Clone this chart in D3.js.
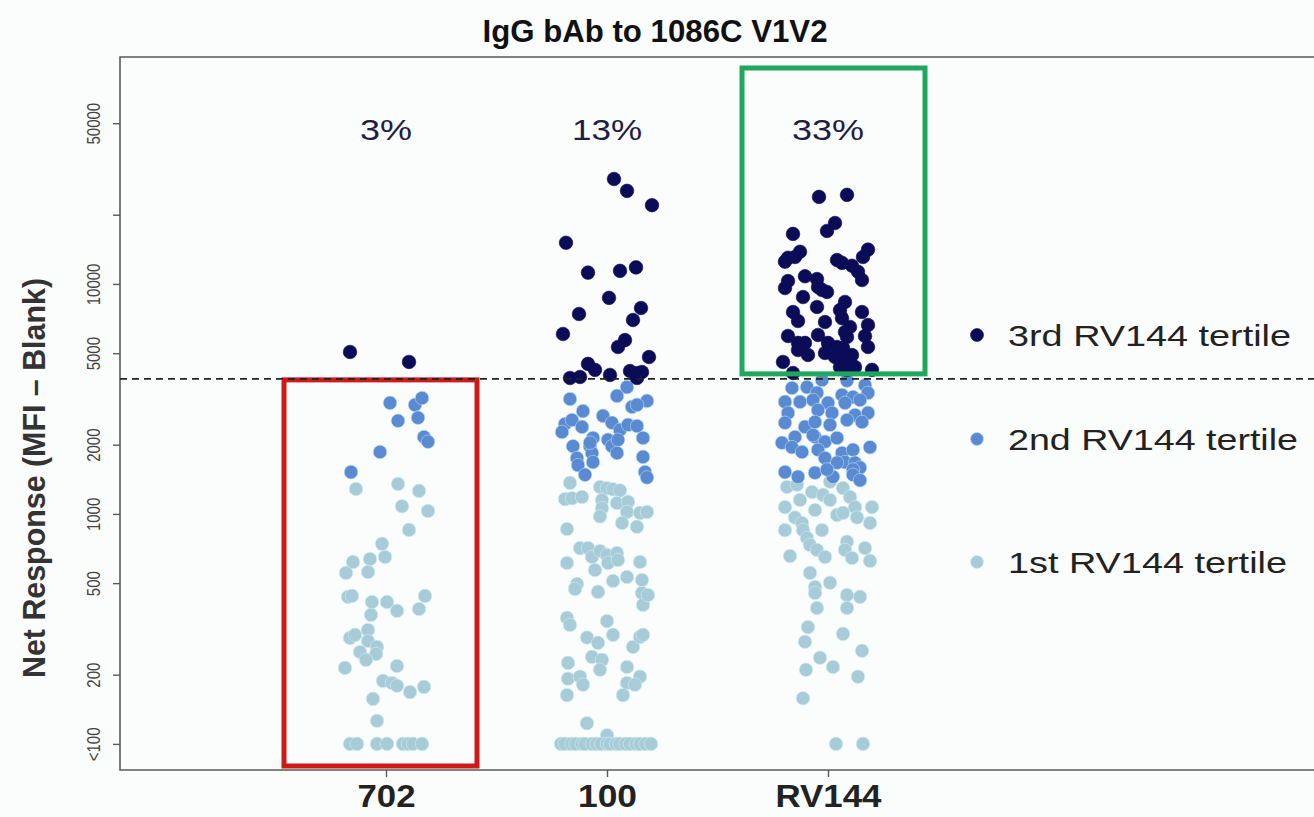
<!DOCTYPE html>
<html lang="en">
<head>
    <meta charset="UTF-8">
    <title>IgG bAb to 1086C V1V2</title>
    <script src="https://d3js.org/d3.v7.min.js"></script>
    <style>
        body {
            margin: 0;
            background: #fbfcfc;
            font-family: "Liberation Sans", Arial, sans-serif;
            overflow: hidden;
        }
        svg {
            display: block;
        }
    </style>
</head>
<body>

    <div id="chart"></div>

    <script>
        const groups = ["702", "100", "RV144"];
        const pctLabels = ["3%", "13%", "33%"];
        const tertiles = ["1st RV144 tertile", "2nd RV144 tertile", "3rd RV144 tertile"];
        const yTicks = [100, 200, 500, 1000, 2000, 5000, 10000, 20000, 50000];
        const yTickLabels = ["<100", "200", "500", "1000", "2000", "5000", "10000", "", "50000"];
        const cutoff = 3865;

        // each point: [net response, horizontal jitter (-1..1)]
        const g702_t1 = [[1284,-0.60],[1350,0.24],[1260,0.66],[1080,0.32],[1030,0.84],[852,0.46],[741,-0.08],[618,-0.66],[637,-0.32],[650,-0.02],
            [554,-0.80],[559,-0.36],[436,-0.76],[440,-0.68],[414,-0.28],[414,0.02],[379,0.22],[440,0.78],[386,0.66],[364,-0.30],
            [289,-0.72],[298,-0.62],[313,-0.36],[280,-0.36],[264,-0.18],[246,-0.20],[251,-0.52],[232,-0.40],[214,-0.82],[218,0.22],
            [188,-0.06],[184,0.12],[179,0.22],[168,0.48],[177,0.76],[157,-0.26],[126,-0.18],
            [100,-0.72],[100,-0.58],[100,-0.18],[100,0.02],[100,0.34],[100,0.44],[100,0.54],[100,0.72]];
        const g702_t2 = [[3040,0.08],[2980,0.58],[3190,0.72],[2540,0.24],[2620,0.64],[2160,0.76],[2060,0.84],[1860,-0.12],[1520,-0.70]];
        const g702_t3 = [[5060,-0.72],[4580,0.46]];

        const g100_t1 = [[1365,-0.74],[1160,-0.84],[1170,-0.70],[1185,-0.50],[1310,-0.14],[1295,0],[1280,0.12],[1265,0.26],[1150,-0.10],[1115,0.20],
            [1130,0.42],[1060,-0.10],[975,-0.14],[1020,0.40],[1010,0.66],[1020,0.80],[913,0.30],[880,0.60],[860,-0.80],[710,-0.54],
            [710,-0.38],[650,-0.30],[690,-0.14],[663,0],[612,0.02],[676,0.20],[630,0.22],[570,-0.24],[612,-0.80],[618,0.66],
            [511,0.12],[532,0.40],[516,0.70],[453,0.70],[402,0.72],[444,0.82],[496,-0.60],[472,-0.64],[458,-0.18],[353,-0.80],
            [329,-0.74],[342,0],[290,-0.40],[275,-0.18],[298,0.12],[264,0.52],[292,0.66],[298,0.72],[239,-0.30],[232,-0.10],
            [210,-0.14],[225,-0.78],[192,-0.78],[196,-0.54],[181,-0.48],[163,-0.80],[216,0.40],[184,0.40],[163,0.32],[196,0.66],
            [181,0.56],[123,-0.40],[109,0],
            [100,-0.92],[100,-0.84],[100,-0.71],[100,-0.63],[100,-0.50],[100,-0.44],[100,-0.30],[100,-0.21],[100,-0.12],[100,0.0],
            [100,0.06],[100,0.18],[100,0.25],[100,0.37],[100,0.46],[100,0.58],[100,0.66],[100,0.77],[100,0.88]];
        const g100_t2 = [[3560,0.40],[3260,0.20],[3160,-0.74],[3100,0.80],[2800,-0.48],[2920,0.50],[2980,0.60],[2670,-0.08],[2460,-0.84],[2560,-0.70],
            [2390,-0.50],[2490,0.10],[2320,0.26],[2440,0.42],[2410,0.60],[2270,-0.90],[2140,-0.28],[2100,0.02],[2140,0.72],[1970,-0.68],
            [1970,-0.34],[1970,0.10],[2100,0.22],[1840,-0.30],[1840,0.20],[1750,-0.60],[1770,0.72],[1680,-0.28],[1630,-0.58],[1480,-0.44],
            [1520,0.76],[1440,0.80],[2040,-0.34]];
        const g100_t3 = [[28600,0.14],[25400,0.40],[22000,0.90],[15100,-0.82],[11200,-0.38],[11400,0.26],[11800,0.58],[8700,0.04],[7400,-0.56],[7860,0.68],
            [6970,0.52],[6060,-0.88],[5700,0.36],[5320,0.22],[4810,0.84],[4490,-0.38],[4230,-0.24],[3900,-0.74],[3940,-0.54],[4020,0.06],
            [4180,0.46],[4100,0.62],[3900,0.60],[4140,0.70]];

        const gRV_t1 = [[1310,-0.82],[1340,-0.62],[1245,-0.32],[1380,0.04],[1210,-0.10],[1295,0.30],[1185,0.44],[1070,-0.86],[1150,-0.56],[1040,-0.26],
            [1150,0.04],[1070,0.54],[1070,0.88],[965,-0.66],[913,-0.52],[990,0.18],[1010,0.30],[965,0.58],[913,0.84],[850,-0.86],
            [850,-0.50],[850,-0.12],[786,-0.42],[733,-0.36],[697,-0.22],[757,0.38],[697,0.34],[710,0.74],[656,-0.76],[650,-0.06],
            [643,0.48],[625,0.84],[554,-0.36],[481,-0.26],[502,0.04],[453,-0.26],[444,0.38],[436,0.64],[390,0.38],[390,-0.22],
            [322,-0.40],[278,-0.46],[301,0.30],[254,0.68],[237,-0.16],[216,0.10],[210,-0.44],[196,0.60],[158,-0.50],
            [100,0.16],[100,0.70]];
        const gRV_t2 = [[3820,-0.12],[3800,0.38],[3530,-0.72],[3560,-0.42],[3360,-0.22],[3630,0.74],[3290,0.28],[3220,0.50],[3360,0.80],[3070,-0.86],
            [3070,-0.56],[3130,-0.30],[3040,0],[3040,0.34],[3130,0.64],[2750,-0.80],[2830,-0.20],[2750,0.08],[2690,0.54],[2750,0.80],
            [2490,-0.86],[2390,-0.46],[2510,-0.26],[2440,0.04],[2560,0.38],[2510,0.68],[2160,-0.66],[2160,-0.26],[2060,-0.06],[2140,0.18],
            [2040,-0.92],[1950,-0.72],[1860,-0.52],[1900,-0.20],[1840,0.28],[1900,0.50],[1950,0.84],[1750,-0.06],[1680,0.34],[1670,0.54],
            [1590,0.64],[1560,0.50],[1520,-0.86],[1450,-0.60],[1510,-0.26],[1450,0.10],[1480,0.50],[2200,-0.30],[1670,0.18],[1560,-0.02],
            [1400,0.64]];
        const gRV_t3 = [[23900,-0.18],[24400,0.38],[18400,0.14],[17000,-0.02],[16500,-0.70],[13800,-0.56],[13000,-0.80],[12500,-0.86],[12700,0.18],[12350,0.28],
            [12000,0.48],[14100,0.80],[13100,0.70],[11300,0.60],[10400,0.68],[10800,-0.46],[10300,-0.80],[10500,-0.22],[9700,-0.20],[9230,-0.02],
            [8770,-0.50],[9600,-0.86],[8350,0.34],[7940,-0.22],[7550,-0.70],[6900,-0.60],[6830,-0.06],[7100,0.28],[7550,0.68],[6500,0.44],
            [6630,0.80],[5940,-0.80],[5540,-0.46],[6000,-0.20],[5540,0],[5320,0.18],[5270,0.30],[5880,0.38],[5940,0.74],[5320,0.80],
            [5160,-0.60],[4910,-0.40],[5010,-0.06],[4810,0.14],[4580,-0.90],[4580,0.44],[4350,0.54],[4230,0.38],[4100,-0.70],[4230,0.88],
            [13100,-0.66],[9420,-0.12],[7700,0.24],[5540,-0.60],[4910,0.48],[4760,0.34],[4350,0.24],[6180,0.34]];

        const groupData = [
            [g702_t1, g702_t2, g702_t3],
            [g100_t1, g100_t2, g100_t3],
            [gRV_t1, gRV_t2, gRV_t3]
        ];

        const tertileColors = ["#a8cbd8", "#5a8ad2", "#0b0b57"];
        const haloColors = ["#cdeef7", "#b5dcf5", "#0b0b57"];

        const width = 1314;
        const height = 817;
        const plot = { left: 120, top: 57, bottom: 770, right: 1400 };

        const svg = d3.select("#chart")
            .append("svg")
            .attr("width", width)
            .attr("height", height);

        svg.append("rect")
            .attr("width", width)
            .attr("height", height)
            .attr("fill", "#fbfcfc");

        // Escalas
        const y = d3.scaleLog()
            .domain([77, 97000])
            .range([plot.bottom, plot.top]);

        const x = d3.scalePoint()
            .domain(groups)
            .range([386, 828]);

        const jitter = d3.scaleLinear()
            .domain([-1, 1])
            .range([-50, 50]);

        // marco del panel (el lado derecho queda fuera de la imagen)
        svg.append("path")
            .attr("d", `M${plot.right},${plot.top}H${plot.left}V${plot.bottom}H${plot.right}`)
            .attr("fill", "none")
            .attr("stroke", "#5a5a5a")
            .attr("stroke-width", 1.6);

        // eje Y
        const yAxis = svg.append("g")
            .attr("transform", `translate(${plot.left},0)`)
            .call(d3.axisLeft(y)
                .tickValues(yTicks)
                .tickFormat((d, i) => yTickLabels[i])
                .tickSize(7)
                .tickSizeOuter(0));
        yAxis.select(".domain").remove();
        yAxis.selectAll(".tick line").attr("stroke", "#5a5a5a").attr("stroke-width", 1.4);
        yAxis.selectAll(".tick text")
            .attr("x", 0)
            .attr("dy", 0)
            .attr("transform", "translate(-20,0) rotate(-90) scale(1,1.25)")
            .attr("text-anchor", "middle")
            .attr("fill", "#444")
            .style("font-size", "15px")
            .style("font-family", "'Liberation Sans', Arial, sans-serif");

        // eje X
        const xAxis = svg.append("g")
            .attr("transform", `translate(0,${plot.bottom})`)
            .call(d3.axisBottom(x).tickSize(7).tickSizeOuter(0));
        xAxis.select(".domain").remove();
        xAxis.selectAll(".tick line").attr("stroke", "#5a5a5a").attr("stroke-width", 1.4);
        const xWidths = { "702": 58, "100": 59, "RV144": 106 };
        xAxis.selectAll(".tick text")
            .attr("y", 37)
            .attr("dy", 0)
            .attr("fill", "#222")
            .attr("textLength", d => xWidths[d])
            .attr("lengthAdjust", "spacingAndGlyphs")
            .style("font-size", "32px")
            .style("font-weight", "bold")
            .style("font-family", "'Liberation Sans', Arial, sans-serif");

        // puntos
        const points = [];
        groupData.forEach((sets, gi) => {
            sets.forEach((set, ti) => {
                set.forEach(p => points.push({ group: groups[gi], tertile: ti, value: p[0], jit: p[1] }));
            });
        });

        svg.append("g")
            .selectAll("circle")
            .data(points)
            .enter()
            .append("circle")
            .attr("cx", d => x(d.group) + jitter(d.jit))
            .attr("cy", d => y(d.value))
            .attr("r", 6.8)
            .attr("fill", d => tertileColors[d.tertile])
            .attr("stroke", d => haloColors[d.tertile])
            .attr("stroke-opacity", 0.6)
            .attr("stroke-width", 1);

        // cajas de anotación
        svg.append("rect")
            .attr("x", x("702") - 102)
            .attr("y", y(cutoff) + 1)
            .attr("width", 193)
            .attr("height", plot.bottom - 4 - (y(cutoff) + 1))
            .attr("fill", "none")
            .attr("stroke", "#d01818")
            .attr("stroke-width", 5);

        svg.append("rect")
            .attr("x", x("RV144") - 86)
            .attr("y", 68)
            .attr("width", 183)
            .attr("height", y(cutoff) - 5 - 68)
            .attr("fill", "none")
            .attr("stroke", "#1fa85c")
            .attr("stroke-width", 5);

        // línea de corte
        svg.append("line")
            .attr("x1", plot.left)
            .attr("x2", width)
            .attr("y1", y(cutoff))
            .attr("y2", y(cutoff))
            .attr("stroke", "#222")
            .attr("stroke-width", 1.6)
            .attr("stroke-dasharray", "7,5");

        // porcentajes
        const pctWidths = [52, 70, 72];
        svg.selectAll(".pct")
            .data(groups)
            .enter()
            .append("text")
            .attr("class", "pct")
            .attr("x", d => x(d))
            .attr("y", 140)
            .attr("text-anchor", "middle")
            .attr("fill", "#1e1e40")
            .attr("textLength", (d, i) => pctWidths[i])
            .attr("lengthAdjust", "spacingAndGlyphs")
            .style("font-size", "30px")
            .text((d, i) => pctLabels[i]);

        // título
        svg.append("text")
            .attr("x", 655)
            .attr("y", 42)
            .attr("text-anchor", "middle")
            .attr("fill", "#111")
            .attr("textLength", 345)
            .attr("lengthAdjust", "spacingAndGlyphs")
            .style("font-size", "31px")
            .style("font-weight", "bold")
            .text("IgG bAb to 1086C V1V2");

        // título eje Y
        svg.append("text")
            .attr("transform", "translate(45,478) rotate(-90) scale(1,1.2)")
            .attr("text-anchor", "middle")
            .attr("fill", "#333")
            .attr("textLength", 400)
            .attr("lengthAdjust", "spacingAndGlyphs")
            .style("font-size", "26px")
            .style("font-weight", "bold")
            .text("Net Response (MFI \u2013 Blank)");

        // leyenda
        const legendY = [562, 439, 335];
        const legendWidths = [279, 290, 283];
        const legend = svg.selectAll(".legend")
            .data(tertiles)
            .enter()
            .append("g")
            .attr("class", "legend")
            .attr("transform", (d, i) => `translate(977,${legendY[i]})`);

        legend.append("circle")
            .attr("r", 6.5)
            .attr("fill", (d, i) => tertileColors[i])
            .attr("stroke", (d, i) => haloColors[i])
            .attr("stroke-opacity", 0.6);

        legend.append("text")
            .attr("x", 31)
            .attr("y", 11)
            .attr("fill", "#222")
            .attr("textLength", (d, i) => legendWidths[i])
            .attr("lengthAdjust", "spacingAndGlyphs")
            .style("font-size", "29px")
            .text(d => d);
    </script>

</body>
</html>
